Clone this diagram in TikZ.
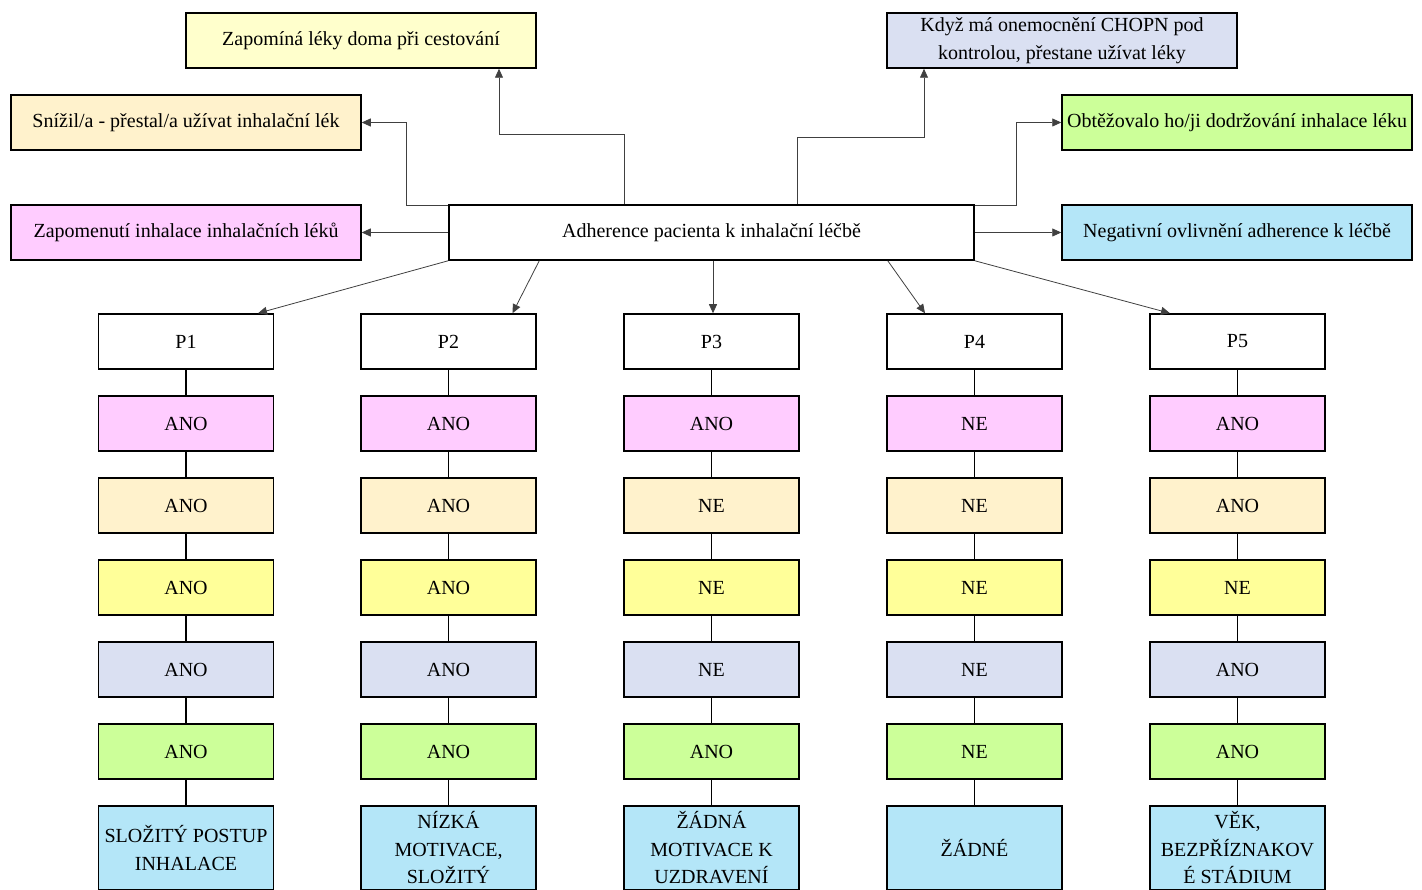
\documentclass[tikz,border=0pt]{standalone}
\usepackage{fontspec}
\setmainfont{Liberation Serif}
\usetikzlibrary{arrows.meta, positioning}
\definecolor{pinkbox}{HTML}{FFCCFF}
\definecolor{beigebox}{HTML}{FFF2CC}
\definecolor{yellowbox}{HTML}{FFFF99}
\definecolor{paleyellow}{HTML}{FFFFCC}
\definecolor{lavenderbox}{HTML}{DAE0F2}
\definecolor{greenbox}{HTML}{CCFF99}
\definecolor{bluebox}{HTML}{B4E6F8}

\begin{document}
\begin{tikzpicture}[x=1pt, y=-1pt, >={Triangle[length=9pt, width=8pt]},
  every node/.style={font=\fontsize{20}{27.5}\selectfont},
  box/.style={draw, line width=1.5pt, minimum width=350pt, minimum height=55pt, inner sep=0pt, align=center},
  cell/.style={draw, line width=1.5pt, minimum width=175pt, minimum height=55pt, inner sep=0pt, align=center},
  conn/.style={->, draw=black!75, line width=0.8pt},
  link/.style={line width=1.5pt}]
  \useasboundingbox (0,0) rectangle (1422,890);

  % central node and the six reasons round it
  \node[box, minimum width=525pt] (C) at (711.5,232.5) {Adherence pacienta k inhalační léčbě};
  \node[box, fill=paleyellow] (Z) at (361,40.5) {Zapomíná léky doma při cestování};
  \node[box, fill=lavenderbox] (K) at (1062,40.5) {Když má onemocnění CHOPN pod\\kontrolou, přestane užívat léky};
  \node[box, fill=beigebox] (S) at (186,122.5) {Snížil/a - přestal/a užívat inhalační lék};
  \node[box, fill=greenbox] (O) at (1237,122.5) {Obtěžovalo ho/ji dodržování inhalace léku};
  \node[box, fill=pinkbox] (ZI) at (186,232.5) {Zapomenutí inhalace inhalačních léků};
  \node[box, fill=bluebox] (N) at (1237,232.5) {Negativní ovlivnění adherence k léčbě};

  \draw[conn] ([xshift=-87.5pt]C.north) -- ++(0,-70) -| ([xshift=138pt]Z.south);
  \draw[conn] ([yshift=-1pt]C.north west) -- ++(-42,0) |- (S.east);
  \draw[conn] (C.west) -- (ZI.east);
  \draw[conn] ([xshift=85.5pt]C.north) -- ++(0,-67) -| ([xshift=-138pt]K.south);
  \draw[conn] ([yshift=-1pt]C.north east) -- ++(42,0) |- (O.west);
  \draw[conn] (C.east) -- (N.west);

  % patients P1--P5
  \foreach \n/\x/\a/\b/\c/\d/\e/\t in {
      1/186/ANO/ANO/ANO/ANO/ANO/{SLOŽITÝ POSTUP\\INHALACE},
      2/448.5/ANO/ANO/ANO/ANO/ANO/{NÍZKÁ\\MOTIVACE,\\SLOŽITÝ},
      3/711.5/ANO/NE/NE/NE/ANO/{ŽÁDNÁ\\MOTIVACE K\\UZDRAVENÍ},
      4/974.5/NE/NE/NE/NE/NE/{ŽÁDNÉ},
      5/1237.5/ANO/ANO/NE/ANO/ANO/{VĚK,\\BEZPŘÍZNAKOV\\É STÁDIUM}} {
    \node[cell] (P\n) at (\x,341.5) {P\n};
    \node[cell, fill=pinkbox, below=25.5pt of P\n] (a\n) {\a};
    \node[cell, fill=beigebox, below=25.5pt of a\n] (b\n) {\b};
    \node[cell, fill=yellowbox, below=25.5pt of b\n] (c\n) {\c};
    \node[cell, fill=lavenderbox, below=25.5pt of c\n] (d\n) {\d};
    \node[cell, fill=greenbox, below=25.5pt of d\n] (e\n) {\e};
    \node[cell, fill=bluebox, minimum height=84pt, below=25.5pt of e\n] (t\n) {\t};
    \draw[link] (P\n) -- (a\n); \draw[link] (a\n) -- (b\n); \draw[link] (b\n) -- (c\n);
    \draw[link] (c\n) -- (d\n); \draw[link] (d\n) -- (e\n); \draw[link] (e\n) -- (t\n);
  }

  \draw[conn] (C.south west) -- ([xshift=72pt]P1.north);
  \draw[conn] ([xshift=91pt]C.south west) -- ([xshift=64pt]P2.north);
  \draw[conn] ([xshift=1.5pt]C.south) -- ([xshift=1.5pt]P3.north);
  \draw[conn] ([xshift=-87pt]C.south east) -- ([xshift=-49.5pt]P4.north);
  \draw[conn] (C.south east) -- ([xshift=-67.5pt]P5.north);
\end{tikzpicture}
\end{document}
